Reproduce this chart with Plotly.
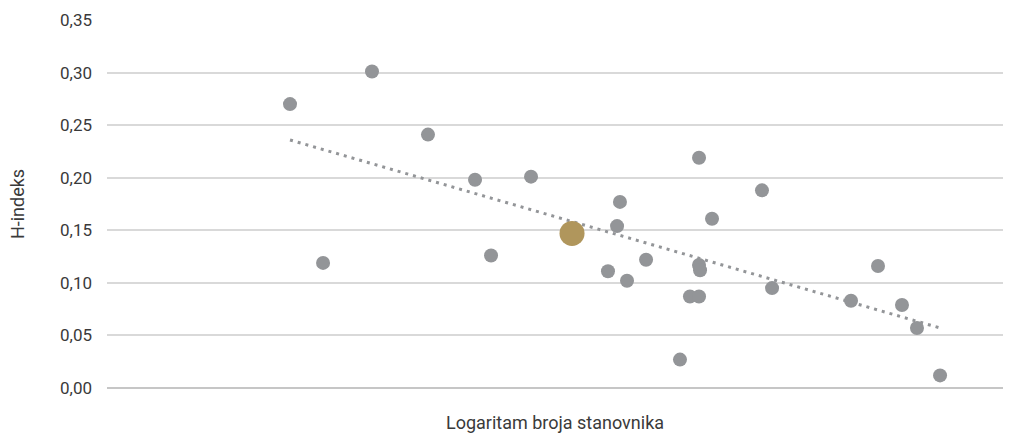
import numpy as np
import plotly.graph_objects as go

# Logarithm of population (x) and H-index (y) per city
log_pop = [8.634, 8.929, 9.366, 9.866, 10.286, 10.429, 10.786, 11.473, 11.554, 11.580,
           11.643, 11.813, 12.116, 12.205, 12.286, 12.286, 12.286, 12.295, 12.402, 12.848,
           12.938, 13.643, 13.884, 14.098, 14.232, 14.438]
h_index = [0.270, 0.119, 0.301, 0.241, 0.198, 0.126, 0.201, 0.111, 0.154, 0.177,
           0.102, 0.122, 0.027, 0.087, 0.087, 0.219, 0.117, 0.112, 0.161, 0.188,
           0.095, 0.083, 0.116, 0.079, 0.057, 0.012]

# Highlighted city
hl_log_pop = [11.152]
hl_h_index = [0.147]

y_ticks = [0.0, 0.05, 0.10, 0.15, 0.20, 0.25, 0.30, 0.35]
y_tick_text = ["0,00", "0,05", "0,10", "0,15", "0,20", "0,25", "0,30", "0,35"]

# Linear trend over all cities
all_x = np.array(log_pop + hl_log_pop)
all_y = np.array(h_index + hl_h_index)
slope, intercept = np.polyfit(all_x, all_y, 1)
trend_x = np.array([all_x.min(), all_x.max()])
trend_y = slope * trend_x + intercept

GREY = "#939598"
GOLD = "#B0965C"
FONT = "Roboto"
TEXT = "#3a3a3a"

fig = go.Figure()
fig.add_trace(go.Scatter(
    x=trend_x, y=trend_y, mode="lines",
    line=dict(color=GREY, width=3, dash="3px,5px"),
    hoverinfo="skip", showlegend=False))
fig.add_trace(go.Scatter(
    x=log_pop, y=h_index, mode="markers",
    marker=dict(color=GREY, size=14, line=dict(width=0)),
    showlegend=False))
fig.add_trace(go.Scatter(
    x=hl_log_pop, y=hl_h_index, mode="markers",
    marker=dict(color=GOLD, size=25, line=dict(width=0)),
    showlegend=False))

fig.update_layout(
    width=1013, height=436,
    margin=dict(l=107, r=10, t=20, b=48),
    paper_bgcolor="white", plot_bgcolor="white",
    font=dict(family=FONT, size=17, color=TEXT),
    xaxis=dict(range=[7.0, 15.0], showticklabels=False, showgrid=False,
               zeroline=False, ticks="", automargin=False,
               title=dict(text="Logaritam broja stanovnika", standoff=28,
                          font=dict(size=18, color=TEXT))),
    yaxis=dict(range=[0, 0.35], tickvals=y_ticks, ticktext=y_tick_text,
               showgrid=True, gridcolor="#d9d9d9", gridwidth=2,
               zeroline=True, zerolinecolor="#c6c6c6", zerolinewidth=2,
               ticks="", ticklabelstandoff=14, automargin=False,
               title=dict(text="H-indeks", standoff=30,
                          font=dict(size=18, color=TEXT))),
)

fig.write_html("out.html")
